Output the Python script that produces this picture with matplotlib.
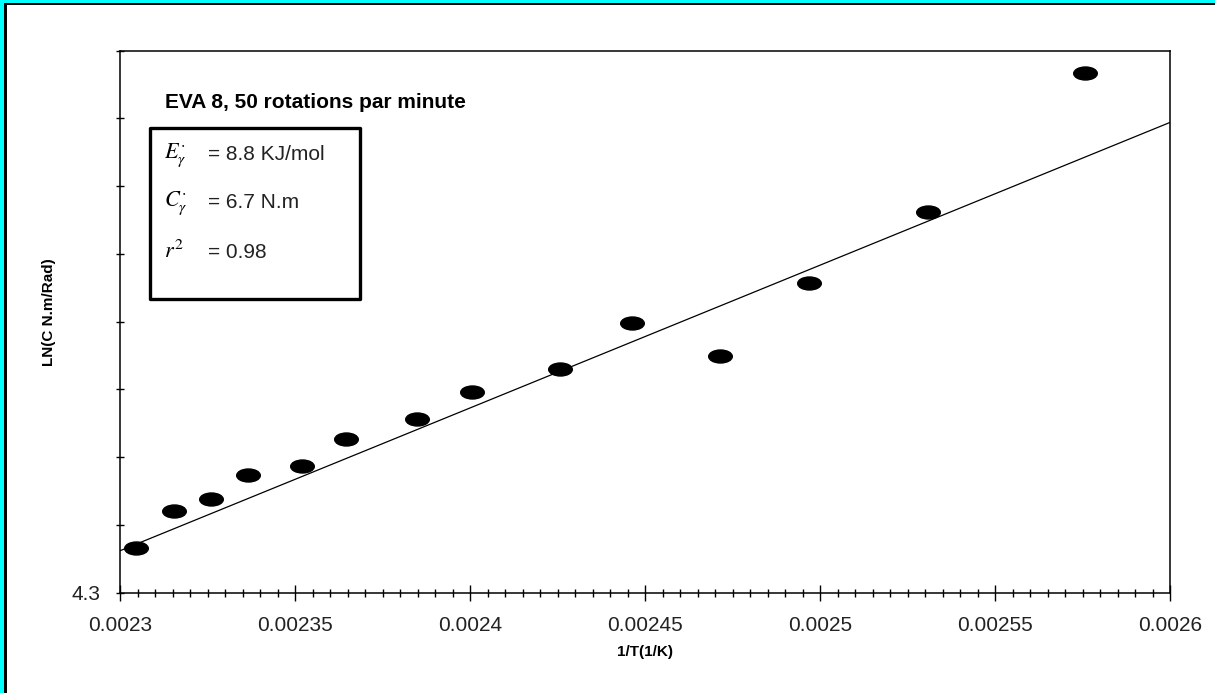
import numpy as np
import matplotlib
matplotlib.use("Agg")
import matplotlib.pyplot as plt
from matplotlib.path import Path
from matplotlib.transforms import Affine2D
from matplotlib.patches import Rectangle
from matplotlib.ticker import MultipleLocator

plt.rcParams["font.family"] = ["Liberation Sans", "DejaVu Sans"]
plt.rcParams["mathtext.fontset"] = "stix"

# data
inv_T = [0.0023045, 0.0023155, 0.0023260, 0.0023365, 0.0023519, 0.0023645, 0.0023848,
         0.0024005, 0.0024257, 0.0024462, 0.0024715, 0.0024968, 0.0025308, 0.0025758]
ln_C = [4.3326, 4.3604, 4.3688, 4.3865, 4.3936, 4.4133, 4.4280,
        4.4482, 4.4647, 4.4991, 4.4748, 4.5282, 4.5806, 4.6832]

# fitted line as drawn on the chart (ln C = intercept + slope / T)
fit_slope = 1053.7
fit_intercept = 1.9073

x_ticks = [0.0023, 0.00235, 0.0024, 0.00245, 0.0025, 0.00255, 0.0026]
x_tick_labels = ["0.0023", "0.00235", "0.0024", "0.00245", "0.0025", "0.00255", "0.0026"]
y_ticks = [4.3, 4.35, 4.4, 4.45, 4.5, 4.55, 4.6, 4.65, 4.7]
y_tick_labels = ["4.3", "", "", "", "", "", "", "", ""]

W, H = 1215, 693
fig = plt.figure(figsize=(W / 100, H / 100), dpi=100)
fig.patch.set_facecolor("white")


def fx(px):
    return px / W


def fy(py):
    return 1 - py / H


ax = fig.add_axes([fx(120), fy(592.5), fx(1170) - fx(120), fy(50.5) - fy(592.5)])
ax.set_xlim(x_ticks[0], x_ticks[-1])
ax.set_ylim(y_ticks[0], y_ticks[-1])

# fit line
fx_line = np.array([x_ticks[0], x_ticks[-1]])
ax.plot(fx_line, fit_intercept + fit_slope * fx_line, color="black", lw=0.9)

# flattened dots
ellipse = Path.unit_circle().transformed(Affine2D().scale(1.0, 0.55))
ax.plot(inv_T, ln_C, linestyle="none", marker=ellipse, markersize=17,
        color="black", clip_on=False)

ax.set_xticks(x_ticks)
ax.set_xticklabels(x_tick_labels)
ax.xaxis.set_minor_locator(MultipleLocator(0.000005))
ax.set_yticks(y_ticks)
ax.set_yticklabels(y_tick_labels)

ax.tick_params(axis="x", which="major", direction="inout", length=11.5, width=1,
               labelsize=15, pad=11, labelcolor="#222222")
ax.tick_params(axis="x", which="minor", direction="inout", length=5.8, width=1)
ax.tick_params(axis="y", which="major", direction="inout", length=5.8, width=1,
               labelsize=15, pad=11, labelcolor="#222222")
for s in ax.spines.values():
    s.set_linewidth(1.1)
    s.set_color("black")

ax.set_xlabel("1/T(1/K)", fontsize=11, fontweight="bold", va="center")
ax.xaxis.set_label_coords(0.5, -0.11)
ax.set_ylabel("LN(C N.m/Rad)", fontsize=11, fontweight="bold", va="center")
ax.yaxis.set_label_coords(-0.0676, 0.5175)

# annotation block
fig.text(fx(165), fy(102), "EVA 8, 50 rotations par minute", fontsize=15,
         fontweight="bold", va="center", ha="left")
fig.add_artist(Rectangle((fx(150), fy(299)), fx(360) - fx(150), fy(128) - fy(299),
                         transform=fig.transFigure, fill=False, lw=2.4,
                         edgecolor="black", joinstyle="round"))
rows = [(r"$E_{\gamma}^{\cdot}$", "= 8.8 KJ/mol", 155),
        (r"$C_{\gamma}^{\cdot}$", "= 6.7 N.m", 203),
        (r"$r^{2}$", "= 0.98", 252)]
for sym, val, py in rows:
    fig.text(fx(164), fy(py), sym, fontsize=16, va="center", ha="left")
    fig.text(fx(208), fy(py), val, fontsize=15, va="center", ha="left", color="#222222")

# cyan frame (left and top edges)
fig.add_artist(Rectangle((0, 0), fx(4), 1, transform=fig.transFigure,
                         facecolor="#00FFFF", edgecolor="none"))
fig.add_artist(Rectangle((0, fy(3)), 1, fy(0) - fy(3), transform=fig.transFigure,
                         facecolor="#00FFFF", edgecolor="none"))
fig.add_artist(Rectangle((fx(4), 0), fx(3), fy(3), transform=fig.transFigure,
                         facecolor="black", edgecolor="none"))
fig.add_artist(Rectangle((fx(4), fy(5)), 1, fy(3) - fy(5), transform=fig.transFigure,
                         facecolor="black", edgecolor="none"))

fig.savefig("out.png", dpi=100)
